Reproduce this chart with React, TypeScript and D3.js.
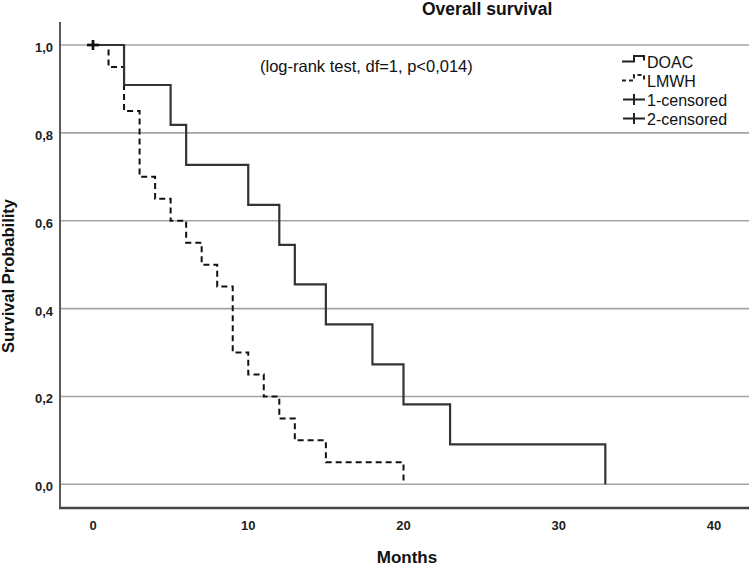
import React from "react";
import * as d3 from "d3";

// ---- data ----
const doacTimes = [0, 2, 5, 6, 10, 12, 13, 15, 18, 20, 23, 33];
const doacSurv = [1, 0.909, 0.818, 0.727, 0.636, 0.545, 0.455, 0.364, 0.273, 0.182, 0.091, 0];
const lmwhTimes = [0, 1, 2, 3, 4, 5, 6, 7, 8, 9, 10, 11, 12, 13, 15, 20];
const lmwhSurv = [1, 0.95, 0.85, 0.7, 0.65, 0.6, 0.55, 0.5, 0.45, 0.3, 0.25, 0.2, 0.15, 0.1, 0.05, 0];
const doacCensoredTimes = [0];
const doacCensoredSurv = [1];
const lmwhCensoredTimes = [0];
const lmwhCensoredSurv = [1];
const xTicks = [0, 10, 20, 30, 40];
const yTicks = [0, 0.2, 0.4, 0.6, 0.8, 1.0];
const yTickLabels = ["0,0", "0,2", "0,4", "0,6", "0,8", "1,0"];
const legendLabels = ["DOAC", "LMWH", "1-censored", "2-censored"];

const W = 749;
const H = 568;
const FONT = "'Liberation Sans', Arial, sans-serif";

export default function App() {
  const x = d3.scaleLinear().domain([0, 40]).range([93, 714]);
  const y = d3.scaleLinear().domain([0, 1]).range([484.3, 45]);
  const plotLeft = 60;
  const plotRight = W;
  const plotTop = 22;
  const plotBottom = 508;

  const line = d3
    .line<[number, number]>()
    .x((d) => x(d[0]))
    .y((d) => y(d[1]))
    .curve(d3.curveStepAfter);

  const doacPts = doacTimes.map((t, i) => [t, doacSurv[i]] as [number, number]);
  const lmwhPts = lmwhTimes.map((t, i) => [t, lmwhSurv[i]] as [number, number]);

  const cens = [
    ...doacCensoredTimes.map((t, i) => [t, doacCensoredSurv[i]]),
    ...lmwhCensoredTimes.map((t, i) => [t, lmwhCensoredSurv[i]]),
  ];

  const legX = 647;
  const legBase = [67.5, 86.5, 105.5, 124.5];

  return (
    <svg
      width={W}
      height={H}
      style={{ position: "absolute", left: 0, top: 0, background: "#fff" }}
      fontFamily={FONT}
    >
      <rect x={0} y={0} width={W} height={H} fill="#fff" />
      {/* gridlines */}
      {yTicks.map((v) => (
        <line
          key={"g" + v}
          x1={plotLeft}
          x2={plotRight}
          y1={y(v)}
          y2={y(v)}
          stroke="#a3a3a3"
          strokeWidth={1.6}
        />
      ))}
      {/* axes */}
      <line x1={plotLeft} x2={plotLeft} y1={plotTop} y2={plotBottom} stroke="#5a5a5a" strokeWidth={2} />
      <line x1={plotLeft - 1} x2={plotRight} y1={plotBottom} y2={plotBottom} stroke="#444" strokeWidth={2.4} />

      {/* y tick labels */}
      {yTicks.map((v, i) => (
        <text
          key={"yt" + v}
          x={53}
          y={y(v) + 7}
          textAnchor="end"
          fontSize={13}
          fontWeight="bold"
          fill="#222"
        >
          {yTickLabels[i]}
        </text>
      ))}
      {/* x tick labels */}
      {xTicks.map((t) => (
        <text
          key={"xt" + t}
          x={x(t)}
          y={530}
          textAnchor="middle"
          fontSize={13}
          fontWeight="bold"
          fill="#222"
        >
          {t}
        </text>
      ))}

      {/* curves */}
      <path d={line(lmwhPts) || ""} fill="none" stroke="#111" strokeWidth={2} strokeDasharray="6,4" />
      <path d={line(doacPts) || ""} fill="none" stroke="#333" strokeWidth={2.2} />

      {/* censored marks */}
      {cens.map((c, i) => (
        <g key={"c" + i} stroke="#111" strokeWidth={2.4}>
          <line x1={x(c[0]) - 6} x2={x(c[0]) + 6} y1={y(c[1])} y2={y(c[1])} />
          <line x1={x(c[0])} x2={x(c[0])} y1={y(c[1]) - 5} y2={y(c[1]) + 5} />
        </g>
      ))}

      {/* titles */}
      <text x={422} y={15} fontSize={17.5} fontWeight="bold" fill="#111">
        Overall survival
      </text>
      <text x={260} y={72} fontSize={16.5} fill="#111">
        (log-rank test, df=1, p&lt;0,014)
      </text>
      <text x={407} y={563} textAnchor="middle" fontSize={17} fontWeight="bold" fill="#111">
        Months
      </text>
      <text
        transform={`translate(14,276) rotate(-90)`}
        textAnchor="middle"
        fontSize={16.5}
        fontWeight="bold"
        fill="#111"
      >
        Survival Probability
      </text>

      {/* legend */}
      <g>
        {/* DOAC solid step */}
        <path
          d={`M${legX - 25},${legBase[0] - 6} H${legX - 13} V${legBase[0] - 11.5} H${legX - 3} V${legBase[0] - 7}`}
          fill="none"
          stroke="#222"
          strokeWidth={2}
        />
        {/* LMWH dashed step */}
        <path
          d={`M${legX - 25},${legBase[1] - 6} H${legX - 13} V${legBase[1] - 11.5} H${legX - 3} V${legBase[1] - 6}`}
          fill="none"
          stroke="#222"
          strokeWidth={2}
          strokeDasharray="4,3"
        />
        {/* censored crosses */}
        {[2, 3].map((k) => (
          <g key={"lc" + k} stroke="#222" strokeWidth={2}>
            <line x1={legX - 24} x2={legX - 2} y1={legBase[k] - 6} y2={legBase[k] - 6} />
            <line x1={legX - 13} x2={legX - 13} y1={legBase[k] - 11.5} y2={legBase[k] - 0.5} />
          </g>
        ))}
        {legendLabels.map((l, i) => (
          <text key={l} x={legX} y={legBase[i]} fontSize={16} fill="#111">
            {l}
          </text>
        ))}
      </g>
    </svg>
  );
}
